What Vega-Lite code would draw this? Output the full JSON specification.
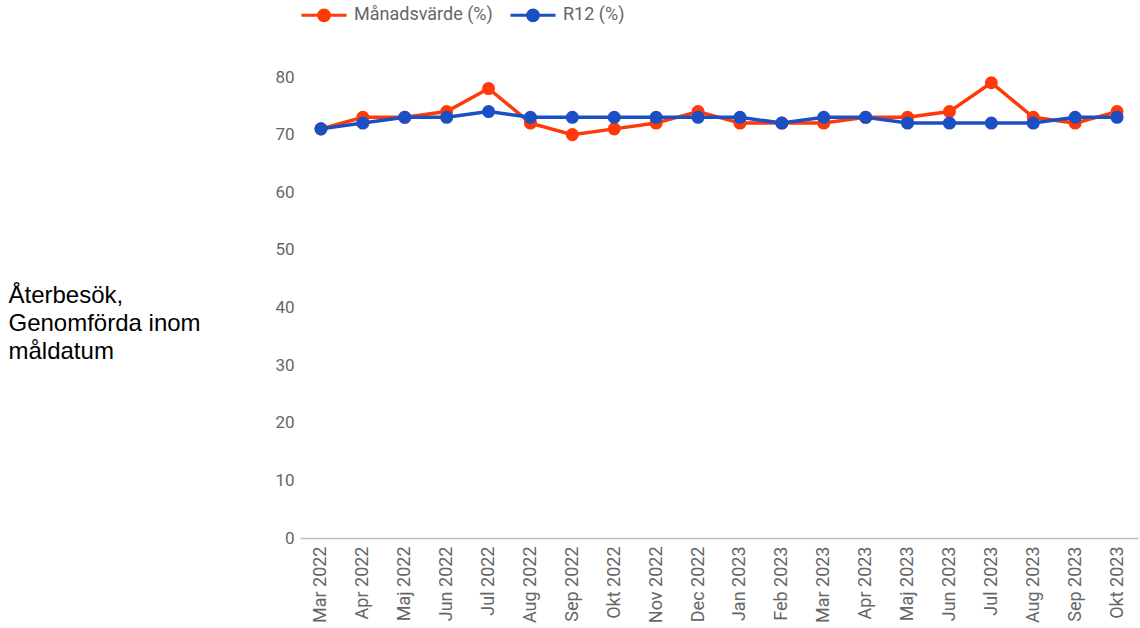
{
  "$schema": "https://vega.github.io/schema/vega-lite/v6.json",
  "width": 838,
  "height": 461,
  "autosize": {"type": "none"},
  "padding": {"left": 300, "top": 77, "right": 2, "bottom": 90},
  "background": "white",
  "config": {
    "view": {"stroke": null},
    "font": "Roboto"
  },
  "data": {
    "values": [
      {"month": "Mar 2022", "series": "Månadsvärde (%)", "value": 71},
      {"month": "Apr 2022", "series": "Månadsvärde (%)", "value": 73},
      {"month": "Maj 2022", "series": "Månadsvärde (%)", "value": 73},
      {"month": "Jun 2022", "series": "Månadsvärde (%)", "value": 74},
      {"month": "Jul 2022", "series": "Månadsvärde (%)", "value": 78},
      {"month": "Aug 2022", "series": "Månadsvärde (%)", "value": 72},
      {"month": "Sep 2022", "series": "Månadsvärde (%)", "value": 70},
      {"month": "Okt 2022", "series": "Månadsvärde (%)", "value": 71},
      {"month": "Nov 2022", "series": "Månadsvärde (%)", "value": 72},
      {"month": "Dec 2022", "series": "Månadsvärde (%)", "value": 74},
      {"month": "Jan 2023", "series": "Månadsvärde (%)", "value": 72},
      {"month": "Feb 2023", "series": "Månadsvärde (%)", "value": 72},
      {"month": "Mar 2023", "series": "Månadsvärde (%)", "value": 72},
      {"month": "Apr 2023", "series": "Månadsvärde (%)", "value": 73},
      {"month": "Maj 2023", "series": "Månadsvärde (%)", "value": 73},
      {"month": "Jun 2023", "series": "Månadsvärde (%)", "value": 74},
      {"month": "Jul 2023", "series": "Månadsvärde (%)", "value": 79},
      {"month": "Aug 2023", "series": "Månadsvärde (%)", "value": 73},
      {"month": "Sep 2023", "series": "Månadsvärde (%)", "value": 72},
      {"month": "Okt 2023", "series": "Månadsvärde (%)", "value": 74},
      {"month": "Mar 2022", "series": "R12 (%)", "value": 71},
      {"month": "Apr 2022", "series": "R12 (%)", "value": 72},
      {"month": "Maj 2022", "series": "R12 (%)", "value": 73},
      {"month": "Jun 2022", "series": "R12 (%)", "value": 73},
      {"month": "Jul 2022", "series": "R12 (%)", "value": 74},
      {"month": "Aug 2022", "series": "R12 (%)", "value": 73},
      {"month": "Sep 2022", "series": "R12 (%)", "value": 73},
      {"month": "Okt 2022", "series": "R12 (%)", "value": 73},
      {"month": "Nov 2022", "series": "R12 (%)", "value": 73},
      {"month": "Dec 2022", "series": "R12 (%)", "value": 73},
      {"month": "Jan 2023", "series": "R12 (%)", "value": 73},
      {"month": "Feb 2023", "series": "R12 (%)", "value": 72},
      {"month": "Mar 2023", "series": "R12 (%)", "value": 73},
      {"month": "Apr 2023", "series": "R12 (%)", "value": 73},
      {"month": "Maj 2023", "series": "R12 (%)", "value": 72},
      {"month": "Jun 2023", "series": "R12 (%)", "value": 72},
      {"month": "Jul 2023", "series": "R12 (%)", "value": 72},
      {"month": "Aug 2023", "series": "R12 (%)", "value": 72},
      {"month": "Sep 2023", "series": "R12 (%)", "value": 73},
      {"month": "Okt 2023", "series": "R12 (%)", "value": 73}
    ]
  },
  "encoding": {
    "x": {
      "field": "month",
      "type": "ordinal",
      "sort": null,
      "title": null,
      "scale": {"type": "point", "padding": 0.5},
      "axis": {
        "labelAngle": -90,
        "labelAlign": "right",
        "labelBaseline": "middle",
        "labelColor": "#666666",
        "labelFont": "Roboto",
        "labelFontSize": 18,
        "labelPadding": 8,
        "ticks": false,
        "domain": true,
        "domainColor": "#bdbdbd",
        "domainWidth": 1.5,
        "grid": false
      }
    },
    "y": {
      "field": "value",
      "type": "quantitative",
      "scale": {"domain": [0, 80], "nice": false},
      "title": ["Återbesök,", "Genomförda inom", "måldatum"],
      "axis": {
        "values": [0, 10, 20, 30, 40, 50, 60, 70, 80],
        "labelColor": "#666666",
        "labelFont": "Roboto",
        "labelFontSize": 17,
        "labelPadding": 6,
        "ticks": false,
        "domain": false,
        "grid": false,
        "titleAngle": 0,
        "titleAlign": "left",
        "titleBaseline": "alphabetic",
        "titleX": -292,
        "titleY": 225,
        "titleFont": "Liberation Sans",
        "titleFontSize": 24,
        "titleFontWeight": "normal",
        "titleColor": "#000000",
        "titleLineHeight": 28
      }
    },
    "color": {
      "field": "series",
      "type": "nominal",
      "scale": {"domain": ["Månadsvärde (%)", "R12 (%)"], "range": ["#ff3a0a", "#1b4fc4"]},
      "legend": {
        "title": null,
        "orient": "none",
        "direction": "horizontal",
        "legendX": 0,
        "legendY": -86,
        "symbolType": "M-1,0L1,0M-0.24,0A0.24,0.24 0 1,0 0.24,0A0.24,0.24 0 1,0 -0.24,0Z",
        "symbolSize": 2025,
        "symbolStrokeWidth": 3,
        "labelColor": "#666666",
        "labelFont": "Roboto",
        "labelFontSize": 18,
        "labelOffset": 6,
        "columnPadding": 11,
        "encode": {
          "symbols": {
            "update": {
              "fill": {"scale": "color", "field": "value"},
              "stroke": {"scale": "color", "field": "value"},
              "fillOpacity": {"value": 1},
              "opacity": {"value": 1}
            }
          }
        }
      }
    }
  },
  "layer": [
    {
      "transform": [{"filter": "datum.series === 'Månadsvärde (%)'"}],
      "mark": {"type": "line", "strokeWidth": 3.5, "point": {"filled": true, "size": 170, "opacity": 1}}
    },
    {
      "transform": [{"filter": "datum.series === 'R12 (%)'"}],
      "mark": {"type": "line", "strokeWidth": 3.5, "point": {"filled": true, "size": 170, "opacity": 1}}
    }
  ]
}
